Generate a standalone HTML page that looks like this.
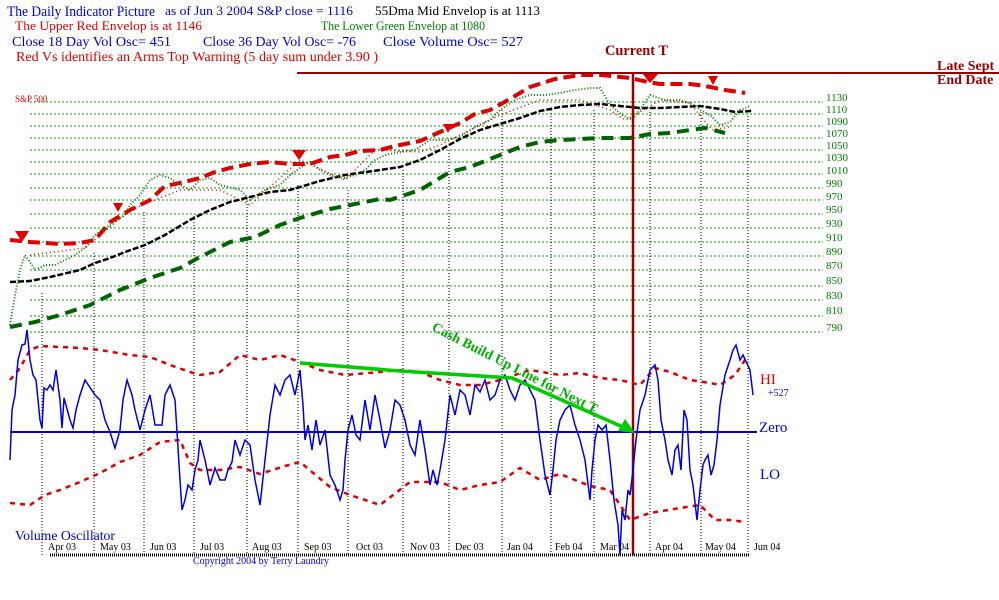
<!DOCTYPE html>
<html><head><meta charset="utf-8"><style>
html,body{margin:0;padding:0;background:#fff;width:999px;height:600px;overflow:hidden}
svg{display:block}
text{font-family:"Liberation Serif",serif}
</style></head><body>
<svg width="999" height="600" viewBox="0 0 999 600" xmlns="http://www.w3.org/2000/svg">
<!-- header -->
<text x="7" y="16" font-size="15" fill="#0000dd" textLength="148" lengthAdjust="spacingAndGlyphs">The Daily Indicator Picture</text>
<text x="165" y="15" font-size="13" fill="#0000dd" textLength="188" lengthAdjust="spacingAndGlyphs">as of Jun 3  2004  S&amp;P close = 1116</text>
<text x="375" y="15" font-size="13" fill="#000" textLength="165" lengthAdjust="spacingAndGlyphs">55Dma  Mid Envelop is at 1113</text>
<text x="15" y="30" font-size="13" fill="#e00000" textLength="187" lengthAdjust="spacingAndGlyphs">The  Upper Red Envelop is at  1146</text>
<text x="321" y="30" font-size="13" fill="#008000" textLength="164" lengthAdjust="spacingAndGlyphs">The Lower Green Envelop at  1080</text>
<text x="12" y="46" font-size="14" fill="#0000dd" textLength="159" lengthAdjust="spacingAndGlyphs">Close  18 Day Vol Osc=  451</text>
<text x="203" y="46" font-size="14" fill="#0000dd" textLength="153" lengthAdjust="spacingAndGlyphs">Close 36 Day Vol Osc= -76</text>
<text x="383" y="46" font-size="14" fill="#0000dd" textLength="140" lengthAdjust="spacingAndGlyphs">Close Volume Osc=   527</text>
<text x="16" y="61" font-size="14" fill="#e00000" textLength="362" lengthAdjust="spacingAndGlyphs">Red Vs identifies an  Arms Top Warning (5 day sum under 3.90 )</text>
<text x="605" y="55" font-size="15" font-weight="bold" fill="#990000" textLength="63" lengthAdjust="spacingAndGlyphs">Current T</text>
<text x="937" y="70" font-size="14" font-weight="bold" fill="#990000">Late Sept</text>
<text x="937" y="84" font-size="14" font-weight="bold" fill="#990000">End Date</text>
<text x="15" y="102" font-size="9" fill="#e00000">S&amp;P 500</text>

<!-- horizontal grid -->
<g stroke="#00a000" stroke-width="1" stroke-dasharray="2,2">
<line x1="30" y1="102" x2="823" y2="102"/><line x1="30" y1="114" x2="823" y2="114"/>
<line x1="30" y1="126" x2="823" y2="126"/><line x1="30" y1="138" x2="823" y2="138"/>
<line x1="30" y1="150" x2="823" y2="150"/><line x1="30" y1="162" x2="823" y2="162"/>
<line x1="30" y1="174" x2="823" y2="174"/><line x1="30" y1="188" x2="823" y2="188"/>
<line x1="30" y1="200" x2="823" y2="200"/><line x1="30" y1="214" x2="823" y2="214"/>
<line x1="30" y1="228" x2="823" y2="228"/><line x1="30" y1="242" x2="823" y2="242"/>
<line x1="30" y1="256" x2="823" y2="256"/><line x1="30" y1="270" x2="823" y2="270"/>
<line x1="30" y1="286" x2="823" y2="286"/><line x1="30" y1="300" x2="823" y2="300"/>
<line x1="30" y1="316" x2="823" y2="316"/><line x1="30" y1="332" x2="823" y2="332"/>
</g>
<g font-size="11" fill="#008000">
<text x="826" y="101">1130</text><text x="826" y="113">1110</text><text x="826" y="125">1090</text>
<text x="826" y="137">1070</text><text x="826" y="149">1050</text><text x="826" y="161">1030</text>
<text x="826" y="174">1010</text><text x="826" y="187">990</text><text x="826" y="200">970</text>
<text x="826" y="213">950</text><text x="826" y="227">930</text><text x="826" y="241">910</text>
<text x="826" y="255">890</text><text x="826" y="269">870</text><text x="826" y="284">850</text>
<text x="826" y="299">830</text><text x="826" y="314">810</text><text x="826" y="331">790</text>
</g>
<!-- vertical month lines -->
<g stroke="#000" stroke-width="1" stroke-dasharray="1,2">
<line x1="42" y1="293" x2="42" y2="555"/><line x1="94" y1="253" x2="94" y2="555"/>
<line x1="144" y1="212" x2="144" y2="555"/><line x1="194" y1="216" x2="194" y2="555"/>
<line x1="247" y1="201" x2="247" y2="555"/><line x1="298" y1="185" x2="298" y2="555"/>
<line x1="348" y1="190" x2="348" y2="555"/><line x1="403" y1="170" x2="403" y2="555"/>
<line x1="449" y1="150" x2="449" y2="555"/><line x1="502" y1="110" x2="502" y2="555"/>
<line x1="551" y1="110" x2="551" y2="555"/><line x1="594" y1="110" x2="594" y2="555"/>
<line x1="650" y1="112" x2="650" y2="555"/><line x1="701" y1="112" x2="701" y2="555"/>
<line x1="748" y1="116" x2="748" y2="555"/>
</g>
<!-- upper pane series -->
<polyline fill="none" stroke="#e00000" stroke-width="4" stroke-dasharray="12,6" points="10,240 30,242 45,243 60,244 80,243 95,240 110,222 130,210 150,200 165,186 180,183 200,178 215,172 230,168 250,164 270,162 290,164 310,164 330,157 345,155 360,151 380,150 395,146 420,141 440,132 460,123 475,114 490,110 510,99 530,87 555,79 580,75 602,75 630,78 648,82 660,84 690,84 705,86 725,90 745,93"/>
<polyline fill="none" stroke="#006400" stroke-width="4" stroke-dasharray="12,7" points="10,327 35,322 60,315 90,305 120,290 150,278 180,268 200,257 230,242 255,237 280,225 300,218 330,209 350,205 380,199 390,200 420,190 450,172 470,167 495,157 520,147 540,142 560,140 600,138 630,138 650,134 670,133 690,130 705,128 725,133"/>
<polyline fill="none" stroke="#000" stroke-width="2.5" stroke-dasharray="6,2" points="10,282 30,281 50,277 80,270 95,263 110,258 125,252 145,245 165,235 190,220 210,210 230,202 250,197 270,192 290,190 320,181 345,175 380,170 400,167 420,160 440,150 460,139 480,130 500,124 520,118 540,111 560,107 580,105 600,104 620,106 640,108 660,108 680,107 700,106 720,109 735,112 752,111"/>
<polyline fill="none" stroke="#008000" stroke-width="2" stroke-dasharray="1,2" points="10,325 15,295 20,270 25,255 30,262 35,270 45,265 55,265 65,260 75,255 85,248 95,235 110,225 125,215 130,205 140,195 150,180 160,175 170,178 180,185 190,190 200,180 210,178 220,185 240,190 250,200 265,190 280,185 290,175 300,168 310,162 320,170 335,177 345,178 355,175 365,170 375,160 385,155 400,152 415,150 430,140 445,140 460,137 475,127 490,120 500,110 515,100 530,95 545,95 560,93 575,90 590,88 600,88 610,105 622,115 632,120 640,110 650,95 665,100 680,100 695,105 700,110 710,115 720,125 730,122 740,110 750,106"/>
<polyline fill="none" stroke="#e00000" stroke-width="1.5" stroke-dasharray="1,3" points="30,255 85,248 130,210 180,190 220,190 250,205 300,160 345,180 375,150 420,152 440,145 500,115 540,100 580,100 610,110 625,120 640,112 660,100 690,103 712,130 730,127"/>
<g fill="#e00000">
<polygon points="15,231 29,231 22,242"/><polygon points="113,203 123,203 118,212"/>
<polygon points="292,150 306,150 299,160"/><polygon points="443,124 453,124 448,133"/>
<polygon points="642,73 659,73 650,83"/><polygon points="708,76 718,76 713,85"/>
</g>
<!-- current T lines -->
<line x1="297" y1="73" x2="999" y2="73" stroke="#990000" stroke-width="2"/>
<line x1="633" y1="73" x2="633" y2="555" stroke="#990000" stroke-width="2.5"/>

<!-- lower pane -->
<line x1="10" y1="432" x2="757" y2="432" stroke="#0000dd" stroke-width="2"/>
<polyline fill="none" stroke="#e00000" stroke-width="2.5" stroke-dasharray="5,5" points="10,380 20,368 30,350 40,346 60,347 80,348 100,350 130,355 150,357 170,365 190,372 200,375 220,372 240,355 260,360 280,355 300,362 320,370 345,375 380,372 400,370 420,372 440,380 460,385 480,385 500,380 530,370 560,375 580,373 600,378 620,380 640,385 655,368 670,372 690,380 710,383 720,385 735,375 745,360"/>
<polyline fill="none" stroke="#e00000" stroke-width="2.5" stroke-dasharray="5,5" points="10,503 30,505 45,495 60,490 80,482 100,473 120,462 140,455 160,442 180,440 190,463 200,470 220,470 240,467 260,474 285,466 300,462 330,487 350,495 380,505 410,482 440,482 460,490 480,485 500,482 520,468 540,480 560,474 590,486 610,490 630,520 650,513 680,508 700,505 715,520 730,520 745,522"/>
<polyline fill="none" stroke="#0000dd" stroke-width="1.5" points="10,460 12,410 15,395 18,360 22,345 25,344 27,330 30,360 33,375 36,380 40,420 42,428 44,388 47,390 50,385 53,390 56,370 60,400 62,428 64,398 70,420 73,428 76,410 80,395 85,380 95,395 100,400 105,420 110,432 115,448 120,430 123,400 127,380 132,395 135,410 140,430 145,410 150,395 155,425 162,425 165,395 170,385 175,400 180,480 182,510 185,500 188,485 192,490 195,470 198,460 200,440 205,460 210,485 215,468 220,480 225,480 228,470 232,462 235,440 240,455 245,440 250,445 255,480 260,505 265,460 270,415 275,385 280,395 285,380 290,375 295,395 300,370 303,405 305,440 308,425 312,450 316,420 320,445 325,430 330,475 335,485 340,500 343,490 345,460 348,430 352,415 356,435 360,440 365,400 370,430 375,395 380,420 385,448 390,430 395,400 400,405 405,420 410,445 415,455 420,420 425,450 430,485 433,470 437,485 440,470 445,440 450,395 455,415 460,390 465,395 470,415 475,385 480,392 485,380 490,400 495,395 500,380 505,375 510,390 515,400 520,385 525,380 530,390 535,400 540,440 545,475 550,495 553,470 556,440 560,420 565,410 570,405 575,425 580,440 585,460 590,500 592,470 595,440 598,425 602,430 606,425 610,460 614,500 618,525 620,555 622,510 625,520 628,490 630,495 633,470 636,440 640,410 645,395 650,370 655,365 658,380 661,420 665,440 668,460 672,475 675,450 678,445 681,470 684,410 687,420 690,470 693,485 697,520 700,490 703,465 705,460 708,455 711,475 714,465 717,440 720,405 725,375 730,360 733,350 736,345 740,360 743,355 750,370 753,395"/>
<!-- green arrow -->
<polyline fill="none" stroke="#00cc00" stroke-width="3.5" points="300,363 400,371 512,378 625,428"/>
<polygon points="635,433 618,431 625,419" fill="#00cc00"/>
<text x="0" y="0" font-size="14" font-weight="bold" fill="#00b000" transform="translate(431,330) rotate(27)">Cash Build Up Line for Next T</text>
<text x="760" y="384" font-size="15" fill="#e00000">HI</text>
<text x="768" y="396" font-size="10" fill="#0000dd">+527</text>
<text x="759" y="432" font-size="15" fill="#0000dd">Zero</text>
<text x="760" y="479" font-size="15" fill="#0000dd">LO</text>
<text x="15" y="540" font-size="14" fill="#0000dd" textLength="100" lengthAdjust="spacingAndGlyphs">Volume Oscillator</text>
<!-- month labels -->
<g font-size="10" fill="#000">
<text x="48" y="550">Apr 03</text><text x="100" y="550">May 03</text><text x="150" y="550">Jun 03</text>
<text x="200" y="550">Jul 03</text><text x="252" y="550">Aug 03</text><text x="304" y="550">Sep 03</text>
<text x="356" y="550">Oct 03</text><text x="410" y="550">Nov 03</text><text x="455" y="550">Dec 03</text>
<text x="507" y="550">Jan 04</text><text x="555" y="550">Feb 04</text><text x="600" y="550">Mar 04</text>
<text x="655" y="550">Apr 04</text><text x="705" y="550">May 04</text><text x="754" y="550">Jun 04</text>
</g>
<line x1="50" y1="555" x2="750" y2="555" stroke="#000" stroke-width="3" stroke-dasharray="1,1"/>
<text x="193" y="564" font-size="10" fill="#0000dd" textLength="136" lengthAdjust="spacingAndGlyphs">Copyright 2004 by Terry Laundry</text>
</svg>
</body></html>
